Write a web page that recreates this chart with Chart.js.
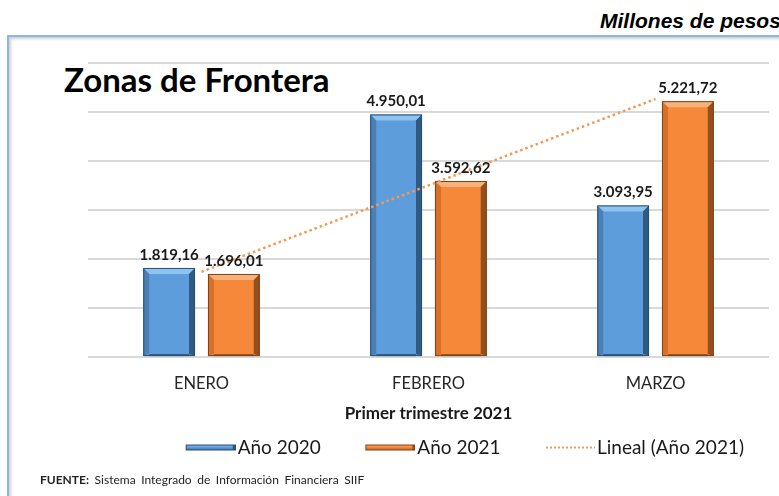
<!DOCTYPE html>
<html>
<head>
<meta charset="utf-8">
<script src="https://cdn.jsdelivr.net/npm/chart.js@4.4.0/dist/chart.umd.min.js"></script>
<style>
  body { margin: 0; background: #fff; width: 779px; height: 496px; overflow: hidden; position: relative; font-family: Lato, sans-serif; }
  #frame { position: absolute; left: 7px; top: 35px; width: 820px; height: 520px; border: 2px solid #8db8e3; box-shadow: inset 2px 2px 3px #cfcfcf; }
  #units { position: absolute; left: 600px; top: 9px; font: italic bold 21px "Liberation Sans", Arial, sans-serif; white-space: nowrap; color: #000; }
  #title { position: absolute; left: 64px; top: 59px; font: bold 33px Lato, sans-serif; color: #000; white-space: nowrap; }
  #source { position: absolute; left: 40px; top: 472px; font: 12px Lato, sans-serif; word-spacing: 2.5px; color: #222; white-space: nowrap; }
  #wrap { position: absolute; left: 0; top: 0; width: 779px; height: 473px; }
</style>
</head>
<body>
<div id="frame"></div>
<div id="units">Millones de pesos</div>
<div id="title">Zonas de Frontera</div>
<div id="wrap"><canvas id="chart"></canvas></div>
<div id="source"><b>FUENTE:</b> Sistema Integrado de Información Financiera SIIF</div>
<script>
const months = ['ENERO', 'FEBRERO', 'MARZO'];
const year2020 = [1819.16, 4950.01, 3093.95];
const year2021 = [1696.01, 3592.62, 5221.72];
const trend2021 = [1740.6, 3503.5, 5266.3];

const blue = { face: '#5e9ddb', top: '#8ec4f2', right: '#2f5a82', left: '#4a80b6', edge: '#2b4f73' };
const orange = { face: '#f68839', top: '#f9b27c', right: '#93501e', left: '#d8702a', edge: '#7d4317' };
const trendColor = '#f29a55';

const formatValue = (v) =>
  v.toLocaleString('de-DE', { minimumFractionDigits: 2, maximumFractionDigits: 2 });

// legend marker: drawn in the right part of a wider canvas so it sits close to its text
const makeSwatch = (kind, colors) => {
  const c = document.createElement('canvas');
  c.width = 77;
  c.height = 8;
  const ctx = c.getContext('2d');
  const x0 = 27;
  if (kind === 'bar') {
    ctx.fillStyle = colors.face;
    ctx.fillRect(x0, 1, 50, 6);
    ctx.fillStyle = colors.top;
    ctx.fillRect(x0 + 1, 1, 48, 1.5);
    ctx.fillStyle = colors.right;
    ctx.fillRect(x0, 5.5, 50, 1.5);
    ctx.fillRect(x0 + 47, 1, 3, 6);
    ctx.strokeStyle = colors.edge;
    ctx.lineWidth = 1;
    ctx.strokeRect(x0 + 0.5, 1.5, 49, 5);
  } else {
    ctx.fillStyle = colors;
    for (let x = x0 + 1; x < 77; x += 4) {
      ctx.fillRect(x, 3, 2, 2);
    }
  }
  return c;
};

// bevel look of the excel bars
const bevelPlugin = {
  id: 'bevel',
  afterDatasetDraw(chart, args) {
    const ds = chart.data.datasets[args.index];
    if (!ds.bevel) return;
    const ctx = chart.ctx;
    const b = 6;
    args.meta.data.forEach((bar) => {
      const left = bar.x - bar.width / 2;
      const right = bar.x + bar.width / 2;
      const top = bar.y;
      const bottom = bar.base;
      ctx.save();
      ctx.fillStyle = ds.bevel.top;
      ctx.beginPath();
      ctx.moveTo(left, top);
      ctx.lineTo(right, top);
      ctx.lineTo(right - b, top + b);
      ctx.lineTo(left + b, top + b);
      ctx.closePath();
      ctx.fill();
      ctx.fillStyle = ds.bevel.right;
      ctx.beginPath();
      ctx.moveTo(right, top);
      ctx.lineTo(right, bottom);
      ctx.lineTo(right - b, bottom - 2);
      ctx.lineTo(right - b, top + b);
      ctx.closePath();
      ctx.fill();
      ctx.fillStyle = ds.bevel.left;
      ctx.beginPath();
      ctx.moveTo(left, top);
      ctx.lineTo(left + b, top + b);
      ctx.lineTo(left + b, bottom - 2);
      ctx.lineTo(left, bottom);
      ctx.closePath();
      ctx.fill();
      ctx.fillStyle = ds.bevel.right;
      ctx.fillRect(left + b, bottom - 2, bar.width - 2 * b, 2);
      ctx.strokeStyle = ds.bevel.edge;
      ctx.lineWidth = 1;
      ctx.strokeRect(left + 0.5, top + 0.5, bar.width - 1, bottom - top - 1);
      ctx.restore();
    });
  },
};

const labelPlugin = {
  id: 'valueLabels',
  afterDatasetsDraw(chart) {
    const ctx = chart.ctx;
    ctx.save();
    ctx.font = 'bold 15px Lato, sans-serif';
    ctx.fillStyle = '#1a1a1a';
    ctx.textAlign = 'center';
    ctx.textBaseline = 'middle';
    chart.data.datasets.forEach((ds, i) => {
      if (ds.type === 'line') return;
      chart.getDatasetMeta(i).data.forEach((bar, j) => {
        ctx.fillText(formatValue(ds.data[j]), bar.x, bar.y - 13);
      });
    });
    ctx.restore();
  },
};

new Chart(document.querySelector('#chart'), {
  data: {
    labels: months,
    datasets: [
      {
        type: 'bar',
        label: 'Año 2020',
        data: year2020,
        backgroundColor: blue.face,
        bevel: blue,
        swatch: makeSwatch('bar', blue),
        order: 2,
      },
      {
        type: 'bar',
        label: 'Año 2021',
        data: year2021,
        backgroundColor: orange.face,
        bevel: orange,
        swatch: makeSwatch('bar', orange),
        order: 2,
      },
      {
        type: 'line',
        label: 'Lineal (Año 2021)',
        data: trend2021,
        borderColor: trendColor,
        backgroundColor: trendColor,
        borderWidth: 2.5,
        borderDash: [2.5, 3],
        pointRadius: 0,
        swatch: makeSwatch('line', trendColor),
        order: 1,
      },
    ],
  },
  plugins: [bevelPlugin, labelPlugin],
  options: {
    responsive: true,
    maintainAspectRatio: false,
    animation: false,
    layout: { padding: { left: 88, right: 10, top: 63, bottom: 6 } },
    datasets: {
      bar: { categoryPercentage: 0.57, barPercentage: 0.8 },
    },
    scales: {
      x: {
        grid: { display: false, drawTicks: false },
        border: { display: false },
        ticks: { color: '#262626', font: { family: 'Lato', size: 16.5, lineHeight: 1 }, padding: 18 },
        title: {
          display: true,
          text: 'Primer trimestre 2021',
          color: '#1a1a1a',
          font: { family: 'Lato', size: 17, weight: 'bold' },
          padding: { top: -6, bottom: -11 },
        },
      },
      y: {
        min: 0,
        max: 6000,
        ticks: { display: false, stepSize: 1000 },
        grid: { color: '#d9d9d9', lineWidth: 2, drawTicks: false },
        border: { display: false },
      },
    },
    plugins: {
      legend: {
        position: 'bottom',
        align: 'end',
        labels: {
          color: '#1a1a1a',
          font: { family: 'Lato', size: 19 },
          usePointStyle: true,
          boxHeight: 8,
          pointStyleWidth: 62,
          padding: 25,
          generateLabels(chart) {
            const items = Chart.defaults.plugins.legend.labels.generateLabels(chart);
            items.sort((a, b) => a.datasetIndex - b.datasetIndex);
            items.forEach((item) => {
              item.pointStyle = chart.data.datasets[item.datasetIndex].swatch;
            });
            return items;
          },
        },
      },
      tooltip: { enabled: false },
    },
  },
});
</script>
</body>
</html>
